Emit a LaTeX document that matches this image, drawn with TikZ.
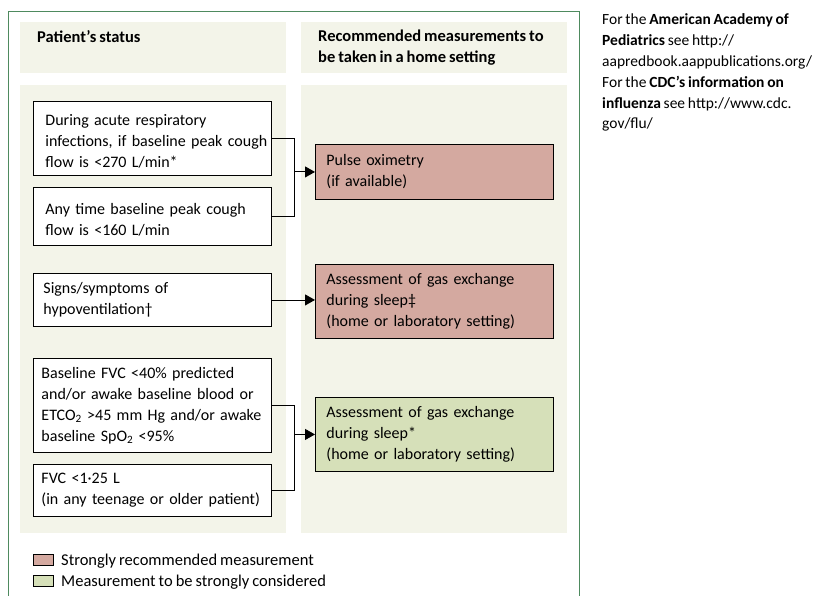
\documentclass[tikz,border=0pt]{standalone}
\usepackage{fontspec}
\setmainfont[WordSpace=0.8]{Carlito}
\usepackage{tikz}
\usetikzlibrary{arrows.meta,positioning}
\definecolor{panelbg}{HTML}{F3F4E9}
\definecolor{strongred}{HTML}{D4A9A0}
\definecolor{considergreen}{HTML}{D6E0B9}
\definecolor{framegreen}{HTML}{4E8A5E}
\hyphenpenalty=10000
\exhyphenpenalty=10000
\newcommand{\topgap}{\rule{0pt}{17pt}}
\tikzstyle{chart}=[
  x=1pt,y=-1pt,font=\fontsize{16}{21}\selectfont
]
\tikzstyle{panel}=[
  fill=panelbg
]
\tikzstyle{statusbox}=[
  draw,fill=white,line width=0.9pt,anchor=north west,inner xsep=12pt,
  text width=214pt,align=left
]
\tikzstyle{measbox}=[
  draw,line width=0.9pt,anchor=north west,inner xsep=11pt,
  text width=216pt,align=left
]
\tikzstyle{link}=[
  line width=0.9pt
]
\tikzstyle{arrowlink}=[
  line width=0.9pt,-{Triangle[length=10pt,width=11pt]}
]
\tikzstyle{keybox}=[
  draw,line width=0.8pt,minimum width=20pt,minimum height=11.5pt,inner sep=0pt
]
\tikzstyle{plain}=[
  anchor=base west,inner sep=0pt,align=left
]

\begin{document}
\begin{tikzpicture}[chart]
    \useasboundingbox (0,0) rectangle (821,596);
    \draw [framegreen,line width=0.8pt] (8,596) -- (8,11) -- (579,11) -- (579,596);
    \fill [panel] (20,22) rectangle (286,73);
    \fill [panel] (301,22) rectangle (567,73);
    \fill [panel] (20,85) rectangle (286,533);
    \fill [panel] (301,85) rectangle (567,533);
    \node (hstatus) at (37,42.3) [plain,font=\fontsize{16.5}{21}\selectfont] {\bfseries Patient’s status};
    \node (hmeas) at (318,62.5) [plain,font=\fontsize{16.5}{20.5}\selectfont] {\bfseries Recommended measurements to\\\bfseries be taken in a home setting};
    \node (b1) at (33,101) [statusbox,minimum height=74pt] {\topgap During acute respiratory\\infections,~if~baseline~peak~cough\\flow is <270 L/min*};
    \node (b2) at (33,187) [statusbox,minimum height=58pt] {\topgap Any time baseline peak cough\\flow is <160 L/min};
    \node (b3) at (33,273) [statusbox,inner xsep=10pt,text width=218pt,minimum height=53pt] {Signs/symptoms of\\hypoventilation†};
    \node (b4) at (33,358) [statusbox,inner xsep=8pt,text width=222pt,minimum height=94pt] {Baseline FVC <40\% predicted\\and/or awake baseline blood or\\ETCO\textsubscript{2} >45 mm Hg and/or awake\\baseline SpO\textsubscript{2} <95\%};
    \node (b5) at (33,464) [statusbox,inner xsep=8pt,text width=222pt,minimum height=52pt] {FVC <1·25 L\\(in any teenage or older patient)};
    \node (pulse) at (315,144) [measbox,fill=strongred,minimum height=55pt] {Pulse oximetry\\(if available)};
    \node (gas1) at (315,264) [measbox,fill=strongred,minimum height=74pt] {Assessment of gas exchange\\during sleep‡\\(home or laboratory setting)};
    \node (gas2) at (315,397) [measbox,fill=considergreen,minimum height=74pt] {Assessment of gas exchange\\during sleep*\\(home or laboratory setting)};
    \coordinate (j1) at (294,0 |- pulse.west);
    \coordinate (j2) at (294,0 |- gas2.west);
    \draw [link] (b1.east) -| (j1);
    \draw [link] (b2.east) -| (j1);
    \draw [arrowlink] (j1) -- (pulse.west);
    \draw [arrowlink] (b3.east) -- (b3.east -| gas1.west);
    \draw [link] (b4.east) -| (j2);
    \draw [link] (b5.east) -| (j2);
    \draw [arrowlink] (j2) -- (gas2.west);
    \node (k1) at (43,560) [keybox,fill=strongred] {};
    \node (k2) at (43,581) [keybox,fill=considergreen] {};
    \node (k1txt) at (61,565) [plain,font=\fontsize{16.5}{21}\selectfont] {Strongly recommended measurement};
    \node (k2txt) at (61,586) [plain,font=\fontsize{16.5}{21}\selectfont] {Measurement to be strongly considered};
    \node (aside) at (602,129) [plain,font=\fontsize{15.5}{20.8}\selectfont] {For the \textbf{American Academy of}\\\textbf{Pediatrics} see http://\\aapredbook.aappublications.org/\\For the \textbf{CDC’s information on}\\\textbf{influenza} see http://www.cdc.\\gov/flu/};
\end{tikzpicture}
\end{document}
